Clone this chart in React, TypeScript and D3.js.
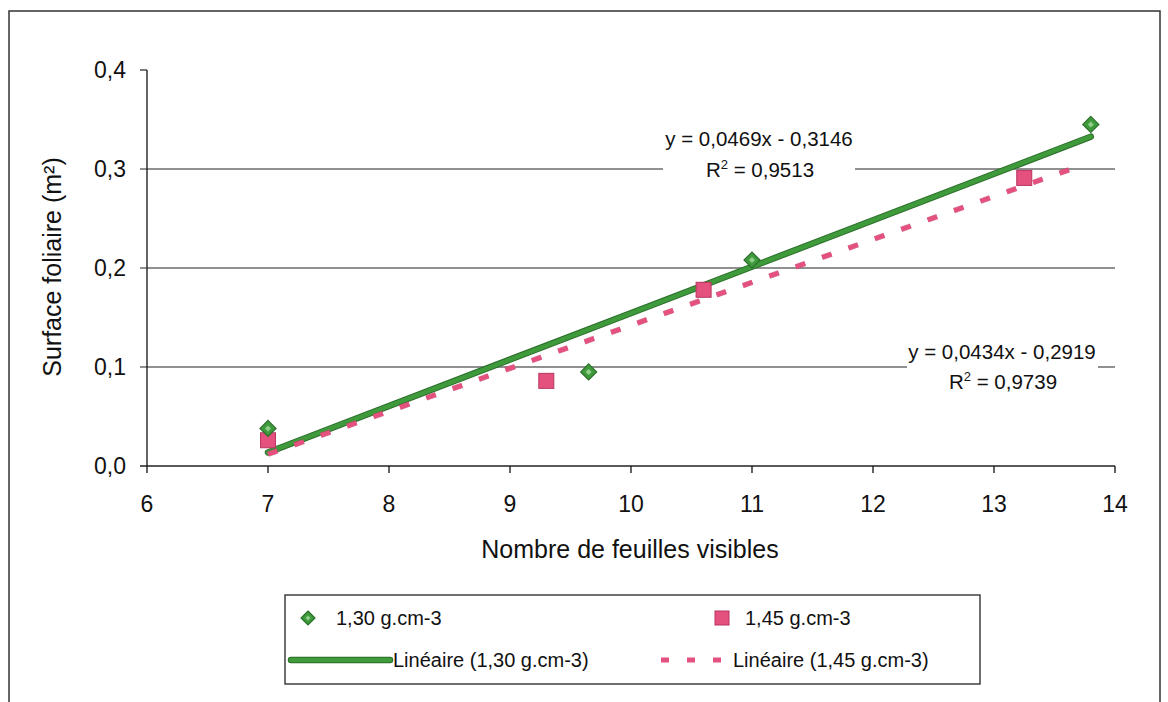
import React from "react";
import * as d3 from "d3";

const xTicks = [6, 7, 8, 9, 10, 11, 12, 13, 14];
const yTicks = [0, 0.1, 0.2, 0.3, 0.4];
const gridValues = [0.1, 0.2, 0.3];

const s130X = [7, 9.65, 11, 13.8];
const s130Y = [0.038, 0.095, 0.208, 0.345];
const s145X = [7, 9.3, 10.6, 13.25];
const s145Y = [0.026, 0.086, 0.178, 0.291];

const trend130 = { slope: 0.0469, intercept: -0.3146, from: 7, to: 13.8 };
const trend145 = { slope: 0.0434, intercept: -0.2919, from: 7, to: 13.7 };

const eq130 = ["y = 0,0469x - 0,3146", "0,9513"];
const eq145 = ["y = 0,0434x - 0,2919", "0,9739"];

const legendLabels = ["1,30 g.cm-3", "1,45 g.cm-3", "Linéaire (1,30 g.cm-3)", "Linéaire (1,45 g.cm-3)"];

const GREEN = "#3f9a3c";
const GREEN_DARK = "#2b6e2a";
const PINK = "#e4517f";
const PINK_DARK = "#b8365f";
const FONT = "'Liberation Sans', Arial, sans-serif";

export default function App() {
  const x = d3.scaleLinear().domain([6, 14]).range([147, 1115]);
  const y = d3.scaleLinear().domain([0, 0.4]).range([466, 70]);
  const fmt = (v: number) => v.toFixed(1).replace(".", ",");
  const line = d3.line<number>().x((d) => x(d)).y((d) => 0);
  const trendPath = (t: typeof trend130) =>
    d3
      .line<number>()
      .x((d) => x(d))
      .y((d) => y(t.slope * d + t.intercept))([t.from, t.to]) || "";

  const diamond = (cx: number, cy: number, r: number) =>
    `M${cx},${cy - r}L${cx + r},${cy}L${cx},${cy + r}L${cx - r},${cy}Z`;

  return (
    <svg
      width={1168}
      height={702}
      style={{ position: "absolute", left: 0, top: 0, background: "#fff" }}
      fontFamily={FONT}
    >
      <rect x={0} y={0} width={1168} height={702} fill="#fff" />
      {/* outer frame */}
      <rect x={9} y={11} width={1151} height={720} fill="none" stroke="#333" strokeWidth={1.5} />

      {/* gridlines */}
      {gridValues.map((v) => (
        <line key={v} x1={140} x2={x(14)} y1={y(v)} y2={y(v)} stroke="#222" strokeWidth={1.2} />
      ))}
      <line x1={140} x2={147} y1={y(0.4)} y2={y(0.4)} stroke="#222" strokeWidth={1.2} />

      {/* equation label backgrounds */}
      <rect x={663} y={124} width={192} height={60} fill="#fff" />
      <rect x={907} y={338} width={191} height={58} fill="#fff" />

      {/* axes */}
      <line x1={147} x2={147} y1={y(0.4)} y2={y(0) + 0.5} stroke="#222" strokeWidth={1.4} />
      <line x1={140} x2={x(14)} y1={y(0)} y2={y(0)} stroke="#222" strokeWidth={1.4} />
      {xTicks.map((t) => (
        <line key={t} x1={x(t)} x2={x(t)} y1={y(0)} y2={y(0) + 7} stroke="#222" strokeWidth={1.4} />
      ))}
      {yTicks.map((t) => (
        <text key={t} x={126} y={y(t)} dy="0.36em" textAnchor="end" fontSize={23} fill="#111">
          {fmt(t)}
        </text>
      ))}
      {xTicks.map((t) => (
        <text key={t} x={x(t)} y={504} dy="0.36em" textAnchor="middle" fontSize={23} fill="#111">
          {t}
        </text>
      ))}

      {/* axis titles */}
      <text x={630} y={549} dy="0.36em" textAnchor="middle" fontSize={25} fill="#111">
        Nombre de feuilles visibles
      </text>
      <text
        transform={`translate(52,267) rotate(-90)`}
        dy="0.36em"
        textAnchor="middle"
        fontSize={25}
        fill="#111"
      >
        Surface foliaire (m²)
      </text>

      {/* trend lines */}
      <path d={trendPath(trend130)} stroke={GREEN_DARK} strokeWidth={6.5} strokeLinecap="round" fill="none" />
      <path d={trendPath(trend130)} stroke={GREEN} strokeWidth={4.5} strokeLinecap="round" fill="none" />
      <path d={trendPath(trend145)} stroke={PINK_DARK} strokeWidth={5.5} strokeDasharray="10 18" fill="none" opacity={0.6} />
      <path d={trendPath(trend145)} stroke={PINK} strokeWidth={4.5} strokeDasharray="10 18" fill="none" />

      {/* points */}
      {s145X.map((v, i) => (
        <rect
          key={"s" + i}
          x={x(v) - 7.5}
          y={y(s145Y[i]) - 7.5}
          width={15}
          height={15}
          fill={PINK}
          stroke={PINK_DARK}
          strokeWidth={1}
        />
      ))}
      {s130X.map((v, i) => (
        <g key={"d" + i}>
          <path d={diamond(x(v), y(s130Y[i]), 8)} fill={GREEN} stroke={GREEN_DARK} strokeWidth={1.2} />
          <path d={diamond(x(v), y(s130Y[i]), 3)} fill="#8fcf8a" />
        </g>
      ))}

      {/* equations */}
      <text x={759} y={139} dy="0.36em" textAnchor="middle" fontSize={20.5} fill="#111">
        {eq130[0]}
      </text>
      <text x={760} y={170} dy="0.36em" textAnchor="middle" fontSize={20.5} fill="#111">
        R<tspan dy="-8" fontSize={13}>2</tspan>
        <tspan dy="8"> = {eq130[1]}</tspan>
      </text>
      <text x={1002} y={352} dy="0.36em" textAnchor="middle" fontSize={20.5} fill="#111">
        {eq145[0]}
      </text>
      <text x={1003} y={382} dy="0.36em" textAnchor="middle" fontSize={20.5} fill="#111">
        R<tspan dy="-8" fontSize={13}>2</tspan>
        <tspan dy="8"> = {eq145[1]}</tspan>
      </text>

      {/* legend */}
      <rect x={285} y={595} width={695} height={89} fill="#fff" stroke="#333" strokeWidth={1.4} />
      <path d={diamond(308, 618, 7)} fill={GREEN} stroke={GREEN_DARK} strokeWidth={1.2} />
      <path d={diamond(308, 618, 2.5)} fill="#8fcf8a" />
      <text x={336} y={618} dy="0.36em" fontSize={20} fill="#111">{legendLabels[0]}</text>
      <rect x={715} y={611} width={14} height={14} fill={PINK} stroke={PINK_DARK} strokeWidth={1} />
      <text x={745} y={618} dy="0.36em" fontSize={20} fill="#111">{legendLabels[1]}</text>
      <line x1={291} x2={390} y1={660} y2={660} stroke={GREEN_DARK} strokeWidth={6.5} strokeLinecap="round" />
      <line x1={291} x2={390} y1={660} y2={660} stroke={GREEN} strokeWidth={4.5} strokeLinecap="round" />
      <text x={393} y={660} dy="0.36em" fontSize={20} fill="#111">{legendLabels[2]}</text>
      <line x1={661} x2={728} y1={660} y2={660} stroke={PINK} strokeWidth={5} strokeDasharray="8 18" />
      <text x={733} y={660} dy="0.36em" fontSize={20} fill="#111">{legendLabels[3]}</text>
    </svg>
  );
}
